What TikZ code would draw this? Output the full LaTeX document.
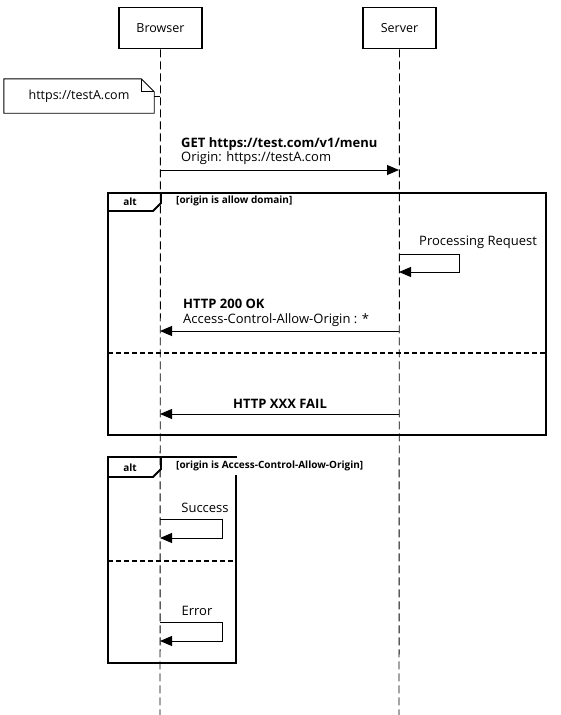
\documentclass[tikz,border=0pt]{standalone}
\usepackage{fontspec}
\setmainfont{Open Sans}
\usetikzlibrary{arrows.meta}
\begin{document}
\begin{tikzpicture}[x=1pt,y=-1pt,
  actor/.style={draw,line width=1.8pt,minimum height=41pt,font=\fontsize{12.5}{14}\selectfont,inner sep=0pt},
  life/.style={line width=0.9pt,dash pattern=on 8pt off 4pt},
  msg/.style={line width=1pt,-{Triangle[length=12pt,width=10pt]}},
  frm/.style={line width=1.8pt},
  sep/.style={line width=1.6pt,dash pattern=on 5pt off 3pt},
  lbl/.style={font=\fontsize{13}{14}\selectfont,inner sep=0pt,anchor=west},
  blbl/.style={font=\fontsize{13}{14}\selectfont\bfseries,inner sep=0pt,anchor=west},
  guard/.style={font=\fontsize{10}{11}\selectfont\bfseries,inner sep=0pt,anchor=west},
  notebox/.style={minimum width=150pt,minimum height=34pt,inner sep=0pt,font=\fontsize{12.5}{14}\selectfont},
]
\useasboundingbox (0,0) rectangle (561,715);
% actors
\node[actor,minimum width=83pt] (browser) at (160.5,28) {Browser};
\node[actor,minimum width=73pt] (server) at (399.5,28) {Server};
\coordinate (bEnd) at (160,715);
\coordinate (sEnd) at (399,715);
\draw[life] (browser.south) -- (bEnd);
\draw[life] (server.south) -- (sEnd);
% note
\node[notebox] (note) at (79,96) {https://testA.com};
\draw[line width=0.9pt] (note.north west) -- ([xshift=-13pt]note.north east) -- ([yshift=-13pt]note.north east) -- (note.south east) -- (note.south west) -- cycle;
\draw[line width=0.9pt] ([xshift=-13pt]note.north east) -- ([xshift=-13pt,yshift=-13pt]note.north east) -- ([yshift=-13pt]note.north east);
\coordinate (noteL) at (160,96);
\draw[line width=0.9pt] (note.east) -- (noteL);
% message 1
\node[blbl] (m1a) at (181,144.5) {GET https://test.com/v1/menu};
\node[lbl] (m1b) at (181,158.5) {Origin: https://testA.com};
\coordinate (m1s) at (160,170);
\coordinate (m1e) at (399,170);
\draw[msg] (m1s) -- (m1e);
% alt frame 1
\draw[frm] (108,193) rectangle (546,435);
\draw[frm] (108,211) -- (153,211) -- (161,203) -- (161,193);
\node[guard,anchor=center] (alt1) at (130,202) {alt};
\node[guard] (g1) at (176,201) {[origin is allow domain]};
% processing
\node[lbl] (proc) at (419,242.5) {Processing Request};
\coordinate (p1) at (399,254);
\coordinate (p2) at (399,272);
\draw[msg] (p1) -- ++(60,0) |- (p2);
% http 200
\node[blbl] (ok1) at (183,303.5) {HTTP 200 OK};
\node[lbl] (ok2) at (183,320.5) {Access-Control-Allow-Origin : *};
\coordinate (r1s) at (399,331);
\coordinate (r1e) at (160,331);
\draw[msg] (r1s) -- (r1e);
% separator
\coordinate (s1a) at (108,353);
\coordinate (s1b) at (546,353);
\draw[sep] (s1a) -- (s1b);
% fail
\node[blbl,anchor=center] (fail) at (280,403.5) {HTTP XXX FAIL};
\coordinate (r2s) at (399,414);
\coordinate (r2e) at (160,414);
\draw[msg] (r2s) -- (r2e);
% alt frame 2
\draw[frm] (236,475) -- (236,663) -- (108,663) -- (108,457) -- (237,457);
\draw[frm] (108,477) -- (153,477) -- (161,469) -- (161,457);
\node[guard,anchor=center] (alt2) at (130,467.5) {alt};
\node[guard] (g2) at (176,466) {[origin is Access-Control-Allow-Origin]};
% success
\node[lbl,anchor=center] (succ) at (205,507.5) {Success};
\coordinate (q1) at (160,519);
\coordinate (q2) at (160,538);
\draw[msg] (q1) -- ++(62,0) |- (q2);
% separator 2
\coordinate (s2a) at (108,561);
\coordinate (s2b) at (236,561);
\draw[sep] (s2a) -- (s2b);
% error
\node[lbl,anchor=center] (err) at (197,610.5) {Error};
\coordinate (e1) at (160,622);
\coordinate (e2) at (160,641);
\draw[msg] (e1) -- ++(62,0) |- (e2);
\end{tikzpicture}
\end{document}
